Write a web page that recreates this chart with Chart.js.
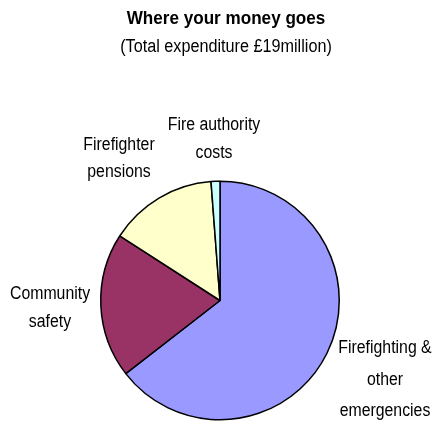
<!DOCTYPE html>
<html>
<head>
<meta charset="utf-8">
<script src="https://cdn.jsdelivr.net/npm/chart.js@4/dist/chart.umd.min.js"></script>
<style>
  html, body { margin:0; padding:0; background:#fff; }
  #wrap { width:433px; height:421px; }
</style>
</head>
<body>
<div id="wrap"><canvas id="chart-pie"></canvas></div>
<script>
'use strict';

const title = 'Where your money goes';
const subtitle = '(Total expenditure £19million)';
const categories = ['Firefighting & other emergencies', 'Community safety', 'Firefighter pensions', 'Fire authority costs'];
const labelLines = [['Firefighting &', 'other', 'emergencies'], ['Community', 'safety'], ['Firefighter', 'pensions'], ['Fire authority', 'costs']];
const values = [64.5, 19.6, 14.7, 1.2];   // % of spend
const colors = ['#9999ff', '#993366', '#ffffcc', '#ccffff'];

// where each outside label sits: centre x, first baseline, line step
const labelPos = [
  {x:385, y:353, step:31.5},
  {x:50, y:299, step:28},
  {x:119, y:150, step:27},
  {x:214, y:130, step:28},
];

// the source font is a narrow one, so squeeze a bigger face sideways
function narrowText(c, t, x, y, sx) {
  c.save();
  c.translate(x, y);
  c.scale(sx, 1);
  c.fillText(t, 0, 0);
  c.restore();
}

const textPlugin = {
  id:'texts',
  afterDraw(chart) {
    const c = chart.ctx;
    c.save();
    c.fillStyle = '#000';
    c.textAlign = 'center';
    c.textBaseline = 'alphabetic';
    c.font = 'bold 18px "Liberation Sans", Arial, sans-serif';
    narrowText(c, title, 226, 24, 0.95);
    c.font = '18px "Liberation Sans", Arial, sans-serif';
    narrowText(c, subtitle, 226, 52, 0.9);
    labelLines.forEach((lines, i) => {
      const p = labelPos[i];
      lines.forEach((t, j) => narrowText(c, t, p.x, p.y + j*p.step, 0.88));
    });
    c.restore();
  }
};

new Chart(document.getElementById('chart-pie'), {
  type:'pie',
  data:{labels:categories, datasets:[{data:values, backgroundColor:colors, borderColor:'#000', borderWidth:1.5, hoverOffset:0}]},
  options:{
    responsive:true, maintainAspectRatio:false, animation:false,
    layout:{padding:{left:100, right:93, top:180, bottom:0}},
    plugins:{legend:{display:false}, tooltip:{enabled:false}, title:{display:false}}
  },
  plugins:[textPlugin]
});
</script>
</body>
</html>
